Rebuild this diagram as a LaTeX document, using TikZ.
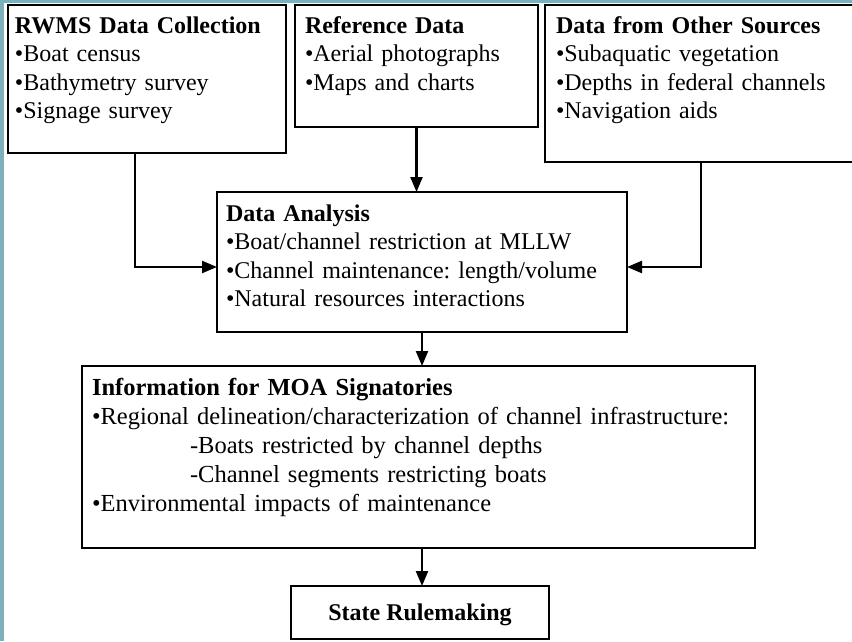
\documentclass[tikz,border=0pt]{standalone}
\usepackage{fontspec}
\setmainfont{Liberation Serif}
\usetikzlibrary{arrows.meta}
\definecolor{myteal}{RGB}{125,176,186}
\newcommand\myhead[1]{\textbf{#1}}
\newcommand\mysub{\hspace*{98pt}-}
\frenchspacing

\begin{document}
\begin{tikzpicture}[x=1pt,y=-1pt,
    every node/.style={font=\fontsize{24}{28.5}\selectfont},
    blk/.style={draw,line width=2.3pt,anchor=north west,align=left,
      outer sep=0pt,inner ysep=0pt,text height=28pt},
    arr/.style={line width=2.3pt,-{Triangle[length=15pt,width=12pt]}}]
    \useasboundingbox (0,0) rectangle (852,641);
    \clip (0,0) rectangle (852,641);

    % teal edge of the slide
    \fill[myteal] (0,0) rectangle (4,641);
    \fill[myteal] (0,0) rectangle (852,3);

    % three sources on top
    \node[blk,text width=264pt,inner xsep=7pt,text depth=120pt] (rwms)
      at (8,5)
      {\myhead{RWMS Data Collection}\\ •Boat census\\
       •Bathymetry survey\\ •Signage survey};
    \node[blk,text width=223pt,inner xsep=10pt,text depth=94pt] (ref)
      at (295,5)
      {\myhead{Reference Data}\\ •Aerial photographs\\ •Maps and charts};
    \node[blk,text width=290pt,inner xsep=11pt,text depth=129pt] (other)
      at (545,5)
      {\myhead{Data from Other Sources}\\ •Subaquatic vegetation\\
       •Depths in federal channels\\ •Navigation aids};

    % analysis
    \node[blk,text width=392pt,inner xsep=9pt,text height=29pt,
      text depth=111pt] (ana)
      at (217,192)
      {\myhead{Data Analysis}\\ •Boat/channel restriction at MLLW\\
       •Channel maintenance: length/volume\\
       •Natural resources interactions};

    % information for the signatories
    \node[blk,text width=653pt,inner xsep=10pt,text height=29pt,
      text depth=153pt,font=\fontsize{24.5}{29}\selectfont] (info)
      at (82,366)
      {\myhead{Information for MOA Signatories}\\
       •Regional delineation/characterization of channel infrastructure:\\
       \mysub Boats restricted by channel depths\\
       \mysub Channel segments restricting boats\\
       •Environmental impacts of maintenance};

    \node[draw,line width=2.3pt,outer sep=0pt,minimum width=258pt,
      minimum height=53pt,text height=16pt,text depth=0pt,
      font=\fontsize{24}{28.5}\selectfont\bfseries] (rule)
      at (420,612.5) {State Rulemaking};

    % connectors
    \draw[arr] ([xshift=-12pt]rwms.south) |- ([yshift=-5pt]ana.west);
    \draw[arr] (ref.south) -- (ref.south |- ana.north);
    \draw[arr] (other.south) |- ([yshift=-5pt]ana.east);
    \draw[arr] (ana.south) -- (ana.south |- info.north);
    \draw[arr] (ana.south |- info.south) -- (ana.south |- rule.north);
\end{tikzpicture}
\end{document}
